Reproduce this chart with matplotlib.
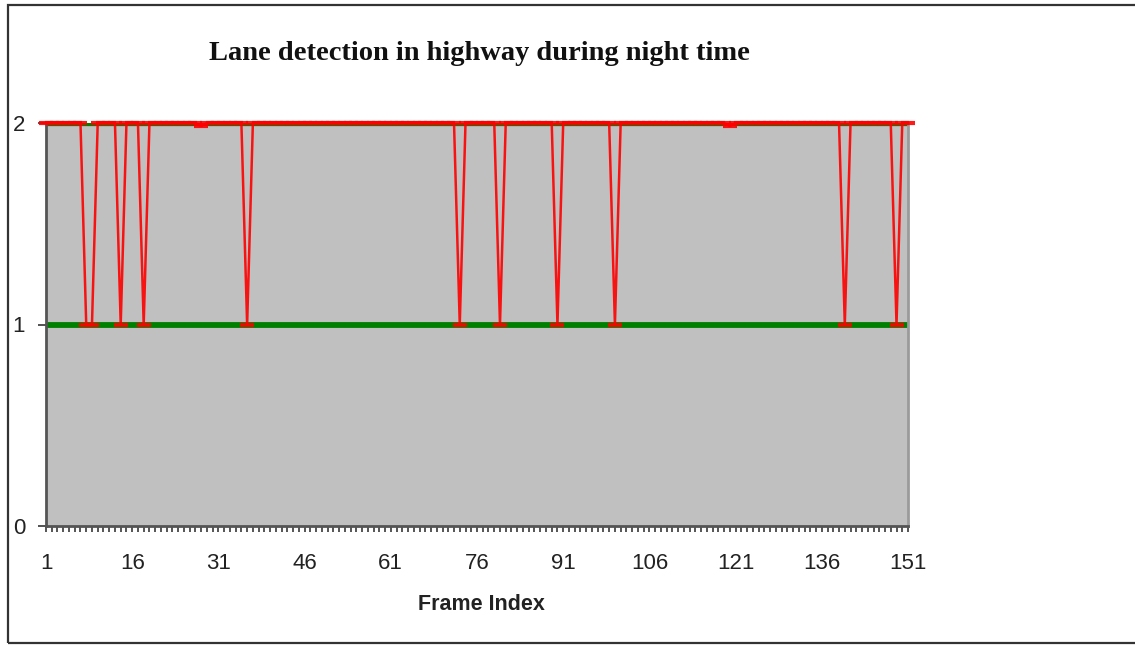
import numpy as np
import matplotlib
matplotlib.use('Agg')
from matplotlib import pyplot as plt
from matplotlib.patches import Rectangle

# frames 1..151, number of lanes detected per frame
frames = np.arange(1, 152)
miss_frames = [8, 9, 14, 18, 36, 73, 80, 90, 100, 140, 149]   # only one lane found
dip_frames = [28, 120]                                        # small glitches just under 2
detected = np.full(len(frames), 2.0)
detected[np.isin(frames, miss_frames)] = 1.0
detected[np.isin(frames, dip_frames)] = 1.985
actual_lanes = np.full(len(frames), 2.0)
lower_ref = np.full(len(frames), 1.0)

xtick_labels = [str(v) for v in range(1, 152, 15)]

fig = plt.figure(figsize=(11.35, 6.46), dpi=100)
ax = fig.add_axes([46/1135, 1-526/646, (908-46)/1135, (526-123)/646])
ax.set_facecolor('#c0c0c0')

ax.plot(frames, lower_ref, color='#008000', lw=4.2, zorder=2, solid_capstyle='butt')
ax.plot(frames, actual_lanes, color='#008000', lw=4.5, zorder=2, solid_capstyle='butt')
ax.plot(frames, detected, color='#ff0000', lw=1.8, marker='_', ms=10, mew=3,
        zorder=3, clip_on=False, alpha=0.9)

ax.set_xlim(1, 151)
ax.set_ylim(0, 2)
ax.set_yticks([0, 1, 2])
ax.set_xticks(range(1, 152, 15))
ax.set_xticklabels(xtick_labels)
ax.set_xticks(frames, minor=True)

ax.tick_params(axis='x', which='both', direction='out', length=4.5, width=1.4,
               color='#555555', pad=15, labelsize=16, labelcolor='#222222')
ax.tick_params(axis='y', direction='out', length=6, width=1.3, color='#444444',
               pad=9, labelsize=16, labelcolor='#222222')
for lbl in ax.get_xticklabels() + ax.get_yticklabels():
    lbl.set_family(['Liberation Sans', 'DejaVu Sans'])

ax.spines['top'].set_visible(False)
ax.spines['right'].set_color('#9a9a9a')
ax.spines['right'].set_linewidth(2)
ax.spines['left'].set_color('#555555')
ax.spines['left'].set_linewidth(2)
ax.spines['bottom'].set_color('#555555')
ax.spines['bottom'].set_linewidth(2)

fig.text(479/1135, 1-54/646, 'Lane detection in highway during night time',
         ha='center', va='center', fontsize=20.5, fontweight='bold',
         family=['Liberation Serif', 'DejaVu Serif'], color='#111111')
fig.text(481/1135, 1-605/646, 'Frame Index', ha='center', va='center',
         fontsize=15.5, fontweight='bold', family=['Liberation Sans', 'DejaVu Sans'],
         color='#222222')

# outer chart frame
fig.patches.append(Rectangle((8/1135, 3/646), 1.0, 1-8/646, transform=fig.transFigure,
                             fill=False, edgecolor='#333333', lw=1.6))

fig.savefig('out.png', dpi=100)
